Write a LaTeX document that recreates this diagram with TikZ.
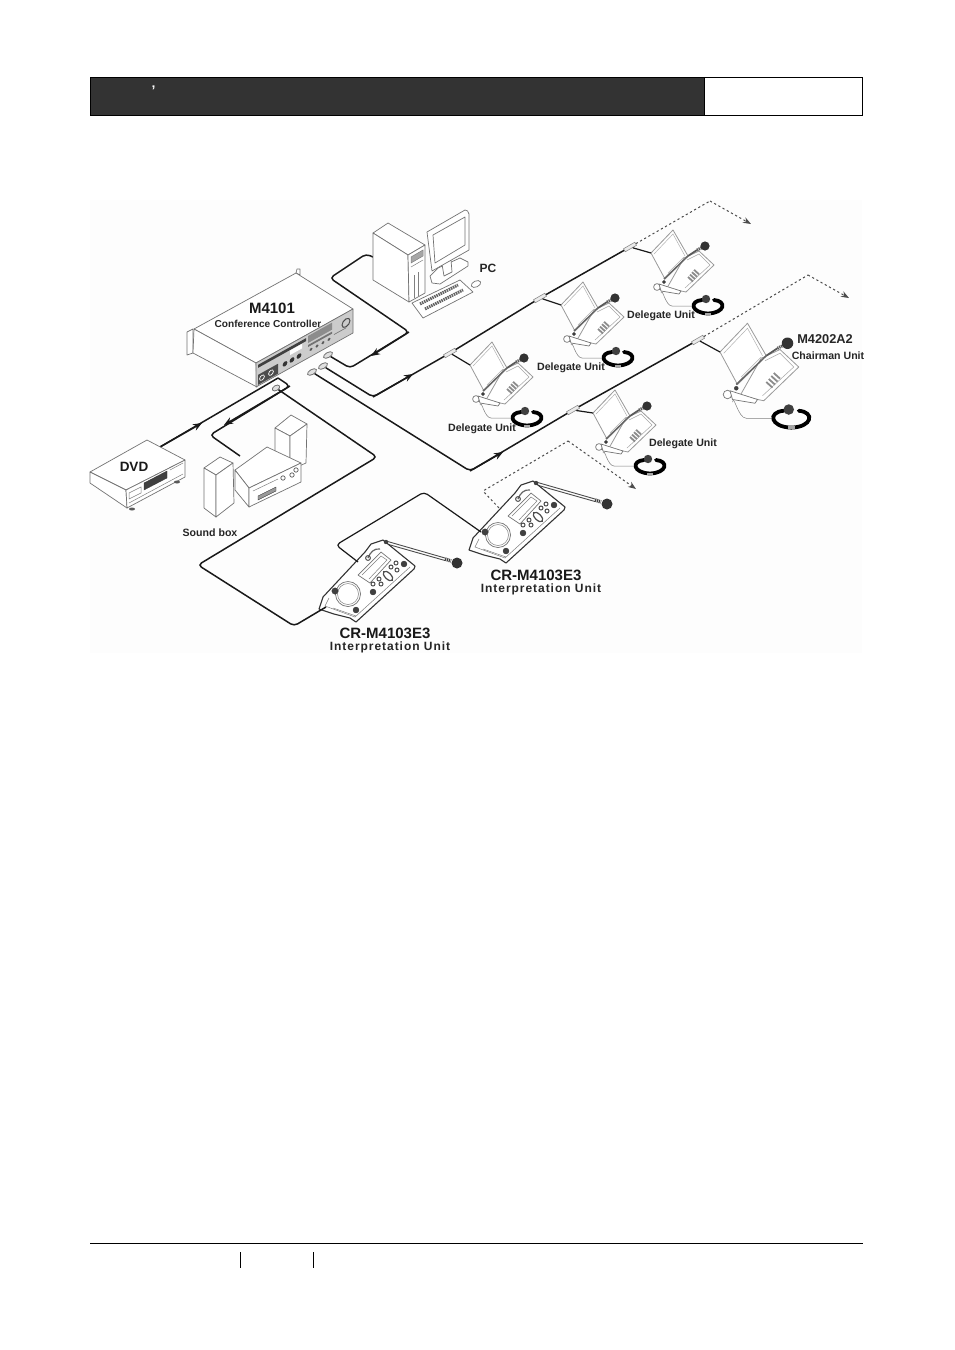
\documentclass[tikz,border=0pt]{standalone}
\usepackage{fontspec}
\setmainfont{Liberation Sans}
\usepackage{xcolor}
\usetikzlibrary{arrows.meta, shapes.geometric}

\definecolor{bandDark}{HTML}{333333}
\definecolor{paperTone}{HTML}{FDFDFD}

\tikzset{
	part/.style = {draw = black!55, fill = white, line width = 0.7pt, line join = round},
	lightpart/.style = {draw = black!40, fill = white, line width = 0.8pt, line join = round},
	thinpart/.style = {draw = black!50, line width = 0.5pt},
	darkpart/.style = {draw = black!80, fill = black!75, line width = 0.3pt},
	cable/.style = {draw = black!90, line width = 1.5pt, rounded corners = 4pt},
	dashcable/.style = {draw = black!70, line width = 1pt, dash pattern = on 2.2pt off 2.6pt, rounded corners = 1pt},
	flowtip/.style = {-{Stealth[length = 9pt, width = 7pt]}},
	endtip/.style = {-{Stealth[length = 8pt, width = 6pt]}},
	plug/.style = {ellipse, draw = black!55, fill = black!12, line width = 0.8pt, minimum width = 10pt, minimum height = 5pt, inner sep = 0pt},
	teejoint/.style = {rectangle, draw = black!45, fill = black!8, line width = 0.6pt, minimum width = 13pt, minimum height = 3.5pt, inner sep = 0pt, rotate = 30},
	smalllabel/.style = {font = \bfseries\fontsize{10.6}{11}\selectfont, text = black!85, inner sep = 0pt},
	biglabel/.style = {font = \bfseries\fontsize{15}{16}\selectfont, text = black!90, inner sep = 0pt},
	spacedlabel/.style = {font = \bfseries\fontsize{12}{13}\selectfont\addfontfeature{LetterSpace = 8}, text = black!85, inner sep = 0pt},
	delegateunit/.pic = {
		\coordinate (-in) at (20,12);
		\draw[lightpart] (20,12) -- (42,-11) -- (57,15) -- (34,38) -- cycle;
		\draw[draw = black!30, line width = 0.5pt] (23,13) -- (42,-7) -- (54,15);
		\draw[lightpart] (53,17) -- (68,10) -- (83,24) -- (55,51) -- (36,47) -- cycle;
		\draw[draw = black!35, line width = 0.5pt] (56,19) -- (68,13) -- (79,24) -- (54,47);
		\foreach \keyRow in {0,1,2,3}
			\draw[draw = black!45, line width = 1.8pt] (57+\keyRow*2,36-\keyRow*2.4) -- ++(5,4.5);
		\draw[draw = black!60, line width = 1.5pt] (33,38) -- (57,15);
		\draw[draw = black!30, line width = 0.6pt] (37,32) -- (53,16);
		\draw[draw = black!65, line width = 1.7pt] (57,15) -- (66,9);
		\draw[draw = black!65, line width = 3pt, dash pattern = on 1.2pt off 0.8pt] (66,9) -- (71,6.5);
		\fill[black!80] (74,5) circle (4.6);
		\draw[part] (26,46) circle (3.4);
		\draw[part] (28,43) -- (50,50) -- (48,53) -- (30,50) -- cycle;
		\draw[darkpart] (33,41) circle (1.6);
		\draw[thinpart] (30,52) to [out = 80, in = 180] (41,65) -- (62,65);
		\draw[draw = black, line width = 3.8pt, line cap = round] (71,59) .. controls (58,60) and (60,72) .. (77,72.5) .. controls (94,72) and (96,60) .. (83,59);
		\fill[black!75] (75,58) circle (4.2);
		\fill[black!35] (74,71.5) rectangle (80,73.5);
	},
	interpunit/.pic = {
		\coordinate (-in) at (-57,67);
		\coordinate (-top) at (-25,22);
		\coordinate (-back) at (-34,27);
		\coordinate (-knob) at (-52,51);
		\draw[draw = black!70, line width = 0.9pt] (3,1) -- (62,18);
		\draw[draw = black!70, line width = 0.9pt] (2,3.5) -- (62,20.5);
		\draw[draw = black!75, line width = 3.5pt, dash pattern = on 1.2pt off 0.8pt] (62,19) -- (68,21);
		\fill[black!80] (74,23) circle (5.5);
		\draw[part, draw = black!80, line width = 1.1pt] (0,0) -- (32,26) -- (31,29) -- (-27,82) -- (-33,78) -- (-49,74) -- (-64,69) -- (-60,57) -- (-18,12) -- (-12,4) -- cycle;
		\draw[thinpart] (27,27) -- (-28,77) -- (-58,66) -- (-54,58);
		\draw[thinpart] (-50,68) -- (-27,76);
		\draw[part] (-35,54) circle (12.5);
		\draw[thinpart] (-35,54) circle (10.5);
		\draw[part] (-25,35) -- (-2,12) -- (8,20) -- (-13,43) -- cycle;
		\draw[thinpart] (-21,35) -- (-2,16) -- (4,20) -- (-14,39);
		\draw[draw = black!60, line width = 1.2pt] (-15,18) to [out = 70, in = 170] (-3,9);
		\draw[draw = black!70, line width = 1pt] (-15,18) circle (2.4);
		\draw[darkpart] (-48,51) circle (3.2);
		\draw[darkpart] (-27,70) circle (3);
		\draw[darkpart] (21,24) circle (3);
		\draw[darkpart] (-10,52) circle (3);
		\draw[darkpart] (3,2) circle (2);
		\foreach \knobSpot in {(-10,44),(-4,39),(-2,44),(8,27),(14,30),(13,23)}
			\draw[draw = black!70, line width = 1pt] \knobSpot circle (2);
		\draw[draw = black!70, line width = 1.2pt, rotate around = {-45:(5,36)}] (5,36) ellipse (6 and 3);
	}
}

\begin{document}
\begin{tikzpicture}[x = 1pt, y = -1pt]
		\useasboundingbox (0,0) rectangle (954,1350);

		\fill[white] (0,0) rectangle (954,1350);
		\fill[paperTone] (90,200) rectangle (862,653);

		\draw[fill = bandDark, draw = black, line width = 1pt] (90.5,77.5) rectangle (704,115.5);
		\draw[fill = white, draw = black, line width = 1pt] (704,77.5) rectangle (862.5,115.5);
		\node[text = white, font = \bfseries\fontsize{14}{14}\selectfont, inner sep = 0pt] (headMark) at (153.5,90.5) {’};

		\draw[line width = 0.8pt] (90,1243) -- (862.5,1243);
		\draw[line width = 0.6pt] (240,1252) -- (240,1268);
		\draw[line width = 0.6pt] (313,1252) -- (313,1268);

		\node[plug, rotate = 30] (plugPc) at (328,355) {};
		\node[plug, rotate = 30] (plugOne) at (323,366) {};
		\node[plug, rotate = 30] (plugTwo) at (312,372) {};
		\node[plug, rotate = 30, minimum width = 8pt] (plugSpeaker) at (276,388) {};

		\node[teejoint] (jointA) at (450,353) {};
		\node[teejoint] (jointB) at (540,298) {};
		\node[teejoint] (jointC) at (630,247) {};
		\node[teejoint] (jointD) at (573,410) {};
		\node[teejoint] (jointE) at (698,340) {};

		\coordinate (pcOut) at (373,257);
		\coordinate (pcBendA) at (366,254);
		\coordinate (pcBendB) at (330,278);
		\coordinate (pcBendC) at (409,332);
		\coordinate (pcBendD) at (350,368);
		\coordinate (pcTip) at (371,356);
		\coordinate (lineOneBend) at (373,397);
		\coordinate (lineOneTip) at (413,374);
		\coordinate (lineTwoBend) at (470,471);
		\coordinate (lineTwoTip) at (503,452);
		\coordinate (dashOneTop) at (710,201);
		\coordinate (dashOneEnd) at (751,224);
		\coordinate (dashTwoTop) at (808,275);
		\coordinate (dashTwoEnd) at (849,298);
		\coordinate (dashThreeTop) at (568,441);
		\coordinate (dashThreeEnd) at (636,489);
		\coordinate (dashThreeLeft) at (483,491);
		\coordinate (dvdOut) at (160,447);
		\coordinate (dvdTip) at (202,423);
		\coordinate (ctrlAudioIn) at (278,378);
		\coordinate (ctrlAudioBend) at (290,386);
		\coordinate (ampTip) at (224,425);
		\coordinate (ampBend) at (210,435);
		\coordinate (ampIn) at (240,456);
		\coordinate (floorBendA) at (377,457);
		\coordinate (floorBendB) at (198,565);
		\coordinate (floorBendC) at (294,626);
		\coordinate (chainBendA) at (336,545);
		\coordinate (chainBendB) at (424,492);

		\draw[cable] (plugPc) -- (pcBendD) -- (pcBendC) -- (pcBendB) -- (pcBendA) -- (pcOut);
		\draw[cable, rounded corners = 0pt, flowtip] (pcBendC) -- (pcTip);
		\draw[cable] (plugOne) -- (lineOneBend) -- (jointA);
		\draw[cable, rounded corners = 0pt, flowtip] (lineOneBend) -- (lineOneTip);
		\draw[cable] (jointA) -- (jointB);
		\draw[cable] (jointB) -- (jointC);
		\draw[cable] (plugTwo) -- (lineTwoBend) -- (jointD);
		\draw[cable, rounded corners = 0pt, flowtip] (lineTwoBend) -- (lineTwoTip);
		\draw[cable] (jointD) -- (jointE);
		\draw[dashcable] (jointC) -- (dashOneTop);
		\draw[dashcable, endtip] (dashOneTop) -- (dashOneEnd);
		\draw[dashcable] (jointE) -- (dashTwoTop);
		\draw[dashcable, endtip] (dashTwoTop) -- (dashTwoEnd);
		\draw[cable, rounded corners = 0pt] (dvdOut) -- (ctrlAudioIn);
		\draw[cable, rounded corners = 0pt, flowtip] (dvdOut) -- (dvdTip);
		\draw[cable] (ctrlAudioIn) -- (ctrlAudioBend) -- (ampBend) -- (ampIn);
		\draw[cable, rounded corners = 0pt, flowtip] (ctrlAudioBend) -- (ampTip);

		\pic (unitA) at (450,353) {delegateunit};
		\pic (unitB) at (541,293) {delegateunit};
		\pic (unitC) at (631,241) {delegateunit};
		\pic (unitD) at (573,401) {delegateunit};
		\pic[scale = 1.25] (unitE) at (695,337) {delegateunit};

		\draw[cable, line width = 1.2pt] (jointA) -- (unitA-in);
		\draw[cable, line width = 1.2pt] (jointB) -- (unitB-in);
		\draw[cable, line width = 1.2pt] (jointC) -- (unitC-in);
		\draw[cable, line width = 1.2pt] (jointD) -- (unitD-in);
		\draw[cable, line width = 1.2pt] (jointE) -- (unitE-in);

		\pic (interpLeft) at (383,540) {interpunit};
		\pic (interpRight) at (533,481) {interpunit};

		\draw[cable] (plugSpeaker) -- (floorBendA) -- (floorBendB) -- (floorBendC) -- (interpLeft-in);
		\draw[cable, line width = 1.2pt] (interpLeft-top) -- (chainBendA) -- (chainBendB) -- (interpRight-knob);
		\draw[dashcable] (interpRight-back) -- (dashThreeLeft) -- (dashThreeTop);
		\draw[dashcable, endtip] (dashThreeTop) -- (dashThreeEnd);

		% controller
		\draw[part] (187,332) -- (193,329) -- (193,353) -- (187,355) -- cycle;
		\draw[part] (296,273) -- (297,269) -- (300,269) -- (300,275) -- cycle;
		\draw[part] (194,329) -- (296,273) -- (353,309) -- (256,363) -- cycle;
		\draw[part] (194,329) -- (256,363) -- (257,387) -- (193,353) -- cycle;
		\begin{scope}[cm = {1,0.557,0,1,(256,363)}]
			\draw[part, fill = black!20] (0,0) rectangle (97,24);
			\fill[black!75] (2,3) rectangle (50,6);
			\fill[white] (34,6.5) rectangle (46,11);
			\fill[black!70] (2,13) rectangle (22,23);
			\foreach \knobX in {29,36,43}
				\fill[black!80] (\knobX,17) circle (2.4);
			\foreach \portX in {6,15}
				\draw[white, line width = 0.7pt] (\portX,18) circle (2.4);
			\fill[black!45] (52,2) rectangle (76,9);
			\fill[black!55] (52,11) rectangle (76,13);
			\foreach \portX in {55,61,67,73}
				\fill[black!65] (\portX,17) circle (1.6);
			\draw[black!55, line width = 0.6pt] (78,15) -- (90,15);
			\draw[black!70, line width = 1pt] (90,10) circle (4);
		\end{scope}

		% pc
		\draw[cable] (pcOut) -- (375,258);
		\draw[part] (373,233) -- (388,223) -- (425,245) -- (408,255) -- cycle;
		\draw[part] (373,233) -- (408,255) -- (409,302) -- (373,280) -- cycle;
		\draw[part] (408,255) -- (425,245) -- (425,293) -- (409,302) -- cycle;
		\draw[thinpart, fill = black!35] (411,257) -- (423,250) -- (423,256) -- (411,263) -- cycle;
		\draw[thinpart] (411,267) -- (423,260);
		\draw[thinpart] (414,275) -- (414,298);
		\draw[thinpart] (418,272) -- (418,296);
		\draw[part] (430,276) -- (438,268) -- (460,258) -- (468,262) -- (468,266) -- (440,284) -- (432,283) -- cycle;
		\draw[part] (442,264) -- (444,276) -- (452,272) -- (451,260) -- cycle;
		\draw[part] (427,232) -- (465,210) to [out = 20, in = 110] (469,214) -- (469,250) -- (432,271) -- cycle;
		\draw[part] (433,235) -- (465,217) -- (465,245) -- (435,263) -- cycle;
		\draw[part] (412,303) -- (460,280) -- (473,292) -- (423,318) -- cycle;
		\draw[draw = black!60, line width = 3pt, dash pattern = on 1.5pt off 0.8pt] (420,304) -- (458,285);
		\draw[draw = black!60, line width = 3pt, dash pattern = on 1.5pt off 0.8pt] (425,309) -- (463,290);
		\draw[part, rotate around = {25:(476,284)}] (476,284) ellipse (5 and 3);

		% dvd
		\draw[part] (90,472) -- (147,440) -- (185,460) -- (126,490) -- cycle;
		\draw[part] (90,472) -- (126,490) -- (127,508) -- (90,483) -- cycle;
		\draw[part] (126,490) -- (185,460) -- (185,477) -- (127,508) -- cycle;
		\draw[darkpart] (144,483) -- (167,471) -- (167,478) -- (144,490) -- cycle;
		\draw[thinpart] (129,493) -- (141,487) -- (141,493) -- (129,499) -- cycle;
		\draw[thinpart] (129,503) -- (183,474);
		\draw[thinpart] (170,470) -- (183,463);
		\fill[black!65] (132,509) ellipse (3 and 1.5);
		\fill[black!65] (177,482) ellipse (3 and 1.5);

		% sound box
		\draw[part] (275,428) -- (291,415) -- (307,424) -- (290,436) -- cycle;
		\draw[part] (275,428) -- (290,436) -- (290,470) -- (275,462) -- cycle;
		\draw[part] (290,436) -- (307,424) -- (306,463) -- (290,470) -- cycle;
		\draw[part] (235,470) -- (267,447) -- (301,463) -- (249,488) -- cycle;
		\draw[part] (235,470) -- (249,488) -- (249,507) -- (235,490) -- cycle;
		\draw[part] (249,488) -- (301,463) -- (301,482) -- (249,507) -- cycle;
		\draw[darkpart, fill = black!40] (258,496) -- (276,487) -- (276,491) -- (258,500) -- cycle;
		\draw[thinpart] (253,491) -- (278,479);
		\foreach \knobX/\knobY in {283/478, 292/475, 296/470}
			\draw[draw = black!65, line width = 0.7pt] (\knobX,\knobY) circle (2.2);
		\draw[part] (204,468) -- (220,457) -- (233,463) -- (216,475) -- cycle;
		\draw[part] (204,468) -- (216,475) -- (216,517) -- (204,508) -- cycle;
		\draw[part] (216,475) -- (233,463) -- (234,503) -- (216,517) -- cycle;

		\node[biglabel] (lblController) at (272,308) {M4101};
		\node[smalllabel, font = \bfseries\fontsize{10.1}{11}\selectfont] (lblConference) at (268,324) {Conference Controller};
		\node[smalllabel, font = \bfseries\fontsize{12}{13}\selectfont] (lblPc) at (488,268) {PC};
		\node[biglabel, font = \bfseries\fontsize{13.5}{14}\selectfont] (lblDvd) at (134,467) {DVD};
		\node[smalllabel] (lblSound) at (210,533) {Sound box};
		\node[smalllabel] (lblUnitA) at (482,429) {Delegate Unit};
		\node[smalllabel] (lblUnitB) at (571,368) {Delegate Unit};
		\node[smalllabel] (lblUnitC) at (661,316) {Delegate Unit};
		\node[smalllabel] (lblUnitD) at (683,444) {Delegate Unit};
		\node[smalllabel, font = \bfseries\fontsize{12.8}{13}\selectfont] (lblChairmanModel) at (825,339) {M4202A2};
		\node[smalllabel] (lblChairman) at (828,356) {Chairman Unit};
		\node[biglabel] (lblInterpRightModel) at (536,575) {CR-M4103E3};
		\node[spacedlabel] (lblInterpRight) at (541,589) {Interpretation Unit};
		\node[biglabel] (lblInterpLeftModel) at (385,633) {CR-M4103E3};
		\node[spacedlabel] (lblInterpLeft) at (390,647.5) {Interpretation Unit};
	\end{tikzpicture}
\end{document}
